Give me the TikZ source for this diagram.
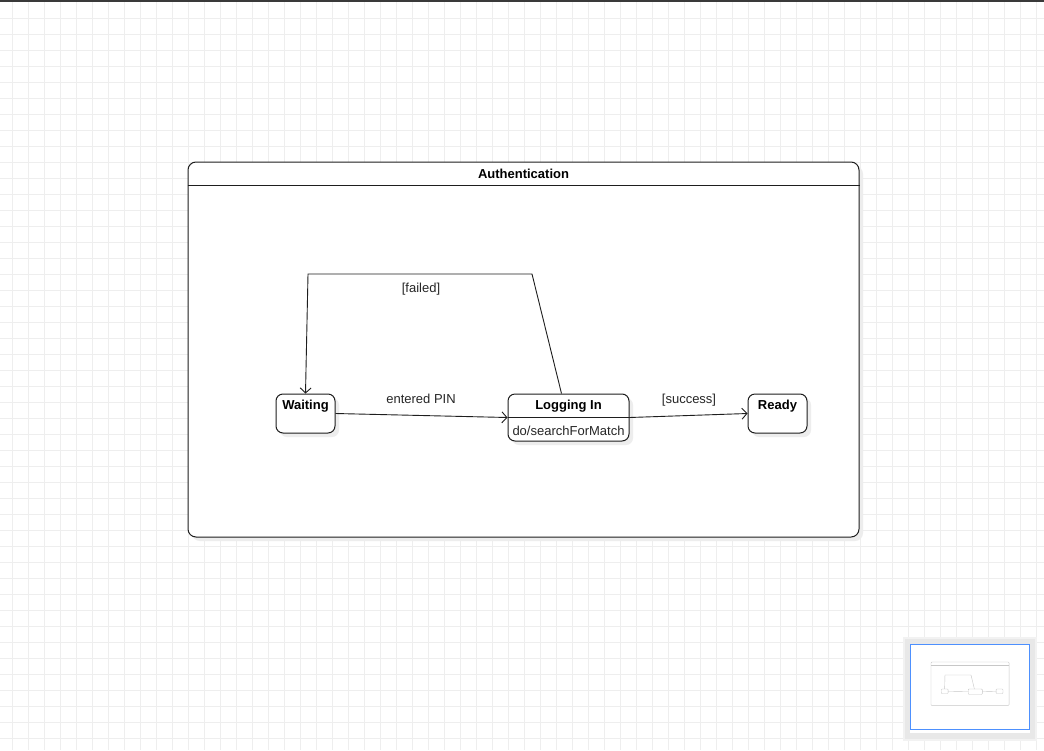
\documentclass[tikz,border=0pt]{standalone}
\usepackage{fontspec}
\setmainfont{Liberation Sans}
\usetikzlibrary{positioning, arrows.meta, shadows}
\definecolor{gridgray}{RGB}{238,238,238}
\definecolor{edgegray}{RGB}{30,30,30}
\definecolor{mapblue}{RGB}{77,144,254}
\definecolor{barblack}{RGB}{58,58,58}
\definecolor{mapgray}{RGB}{232,232,232}
\tikzset{
  shade box/.style={drop shadow={shadow xshift=4pt, shadow yshift=-4pt, fill=black!7, opacity=1}},
  state/.style={draw=edgegray, line width=1pt, fill=white, rounded corners=7pt, minimum width=59pt, minimum height=39pt, inner sep=0pt, shade box},
  container/.style={draw=edgegray, line width=1pt, fill=white, rounded corners=8pt, minimum width=671pt, minimum height=375pt, inner sep=0pt, shade box},
  statename/.style={font=\fontsize{13}{15}\selectfont\bfseries, inner sep=0pt},
  guard/.style={font=\fontsize{13}{15}\selectfont, inner sep=0pt, text=black!85},
  trans/.style={draw=edgegray, line width=0.9pt, -{Straight Barb[length=5pt,width=11pt]}},
  tiny/.style={draw=black!22, line width=0.4pt},
}
\begin{document}
\begin{tikzpicture}[x=1pt, y=-1pt]
\useasboundingbox (0,0) rectangle (1044,750);
% background grid
\fill[white] (0,0) rectangle (1044,750);
\foreach \gx in {12,28,...,1040} \draw[gridgray, line width=0.8pt] (\gx+0.5,0) -- (\gx+0.5,750);
\foreach \gy in {18,34,...,746} \draw[gridgray, line width=0.8pt] (0,\gy+0.5) -- (1044,\gy+0.5);
\fill[barblack] (0,0) rectangle (1044,2);

% composite state
\node[container] (auth) at (523.5,349.5) {};
\draw[edgegray, line width=1pt] ([yshift=-24pt]auth.north west) -- ([yshift=-24pt]auth.north east);
\node[statename] (authtitle) at ([yshift=-12.5pt]auth.north) {Authentication};

% states
\node[state] (waiting) at (305.5,413.5) {};
\node[statename] (waitingname) at ([yshift=-13pt]waiting.north) {Waiting};
\node[state, minimum width=121pt, minimum height=47pt] (login) at (568.5,417.5) {};
\draw[edgegray, line width=1pt] ([yshift=-24pt]login.north west) -- ([yshift=-24pt]login.north east);
\node[statename] (loginname) at ([yshift=-13pt]login.north) {Logging In};
\node[guard] (logindo) at ([yshift=11pt]login.south) {do/searchForMatch};
\node[state] (ready) at (777.5,413.5) {};
\node[statename] (readyname) at ([yshift=-13pt]ready.north) {Ready};

% transitions
\draw[trans] (waiting.east) -- (login.west);
\node[guard] (pin) at (421,399) {entered PIN};
\draw[trans] (login.east) -- (ready.west);
\node[guard] (success) at (689,400) {[success]};
\coordinate (failR) at (532,274);
\coordinate (failL) at (308,274);
\draw[trans] ([xshift=-7pt]login.north) -- (failR) -- (failL) -- (waiting.north);
\node[guard] (failed) at (421,289) {[failed]};

% outline view
\fill[black!5] (903,637) rectangle (1037,741);
\fill[mapgray] (905,639) rectangle (1035,739);
\fill[white] (910,644) rectangle (1030,733);
\draw[mapblue, line width=1pt] (910.5,644.5) rectangle (1029.5,729.5);
\begin{scope}[shift={(909.14,643.16)}, scale=0.1163]
  \draw[tiny, rounded corners=1pt] (188,162) rectangle (859,537);
  \draw[tiny] (188,186) -- (859,186);
  \draw[tiny, rounded corners=0.8pt] (276,394) rectangle (335,433);
  \draw[tiny, rounded corners=0.8pt] (508,394) rectangle (629,441);
  \draw[tiny, rounded corners=0.8pt] (748,394) rectangle (807,433);
  \draw[tiny] (335,413) -- (508,416);
  \draw[tiny] (629,416) -- (748,413);
  \draw[tiny] (561,394) -- (532,274) -- (308,274) -- (305,394);
\end{scope}
\end{tikzpicture}
\end{document}
